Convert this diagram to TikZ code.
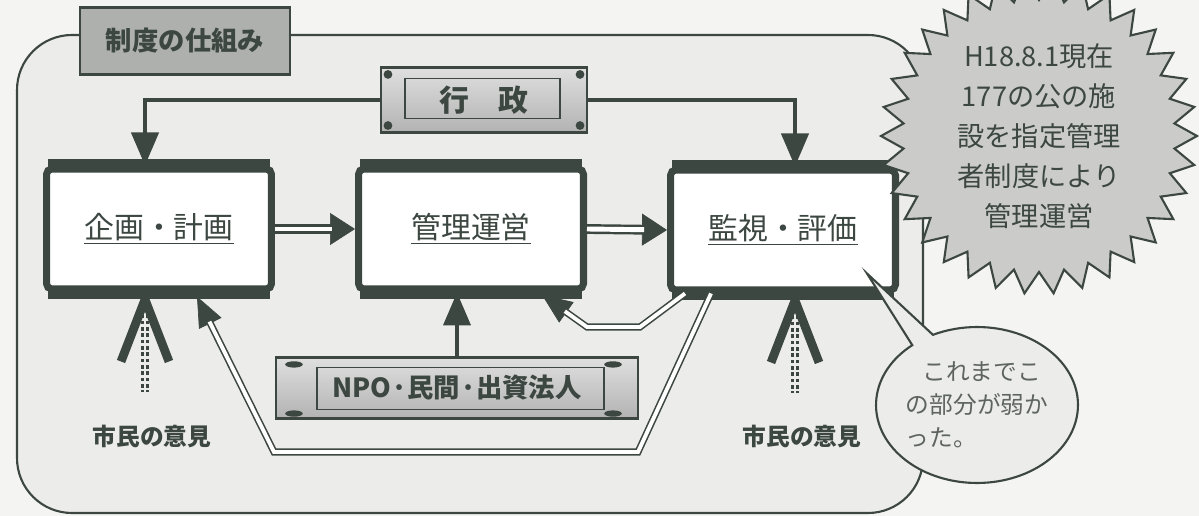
\documentclass[tikz,border=0pt]{standalone}
\usepackage{fontspec}
\setmainfont{Noto Sans CJK JP}
\usetikzlibrary{arrows.meta,shapes.callouts}

\definecolor{ink}{HTML}{3D4742}
\definecolor{paper}{HTML}{F4F4F2}
\definecolor{panel}{HTML}{ECECEA}
\definecolor{plate}{HTML}{AEB0AD}
\definecolor{burstgray}{HTML}{CBCCCA}
\definecolor{softink}{HTML}{5E6460}

\tikzstyle{panelframe} = [draw=ink, line width=1.2pt, fill=panel, rounded corners=1.1cm]
\tikzstyle{titlebox} = [rectangle, draw=ink, line width=1.2pt, fill=plate, minimum width=4.2cm, minimum height=1.34cm, text=ink, font=\bfseries\fontsize{15}{18}\selectfont]
\tikzstyle{plaque} = [rectangle, draw=ink, line width=1.2pt, top color=gray!25, bottom color=gray!60, text=ink, font=\bfseries\fontsize{17}{20}\selectfont]
\tikzstyle{stagebox} = [rectangle, rounded corners=3pt, minimum width=4.5cm, minimum height=2.4cm, draw=ink, line width=4pt, fill=white, text=ink, font=\fontsize{17}{20}\selectfont]
\tikzstyle{voice} = [text=ink, font=\bfseries\fontsize{13.5}{16}\selectfont]
\tikzstyle{flow} = [draw=ink, line width=2.4pt, -{Triangle[length=0.66cm, width=0.54cm]}]
\tikzstyle{pipe} = [draw=ink, line width=1.4pt, double=white, double distance=2.8pt, shorten >=0.46cm]
\tikzstyle{pipetip} = [draw=ink, line width=0.4pt, -{Triangle[length=0.5cm, width=0.64cm]}]
\tikzstyle{backline} = [draw=ink, line width=0.9pt, double=white, double distance=2.2pt, shorten >=0.56cm]
\tikzstyle{backtip} = [draw=ink, line width=0.4pt, -{Triangle[length=0.6cm, width=0.5cm]}]
\tikzstyle{chevron} = [draw=ink, line width=5pt, line join=miter]
\tikzstyle{dotpair} = [draw=ink, line width=1.8pt, double=panel, double distance=1.2pt, dash pattern=on 2pt off 1.6pt]

\begin{document}
\begin{tikzpicture}[x=0.02cm, y=-0.02cm]
\useasboundingbox (0,0) rectangle (1199,516);
\fill[paper] (0,0) rectangle (1199,516);

% outer panel and its title
\draw[panelframe] (17,35) rectangle (923,513);
\node (title) [titlebox] at (185,41) {制度の仕組み};

% plaques
\node (gyosei) [plaque, minimum width=4.12cm, minimum height=1.3cm] at (484,100) {行\quad 政};
\draw[ink, line width=0.8pt] ([shift={(25,12)}]gyosei.north west) rectangle ([shift={(-28,-15)}]gyosei.south east);
\fill[ink] ([shift={(8,8)}]gyosei.north west) circle (2.5pt);
\fill[ink] ([shift={(-8,8)}]gyosei.north east) circle (2.5pt);
\fill[ink] ([shift={(8,-8)}]gyosei.south west) circle (2.5pt);
\fill[ink] ([shift={(-8,-8)}]gyosei.south east) circle (2.5pt);

\node (npo) [plaque, minimum width=7.24cm, minimum height=1.22cm, font=\bfseries\fontsize{15}{18}\selectfont] at (457,388) {NPO·民間·出資法人};
\draw[ink, line width=0.8pt] ([shift={(42,11)}]npo.north west) rectangle ([shift={(-35,-10)}]npo.south east);
\fill[ink] ([shift={(19,8)}]npo.north west) ellipse [x radius=5pt, y radius=1.8pt];
\fill[ink] ([shift={(19,-6)}]npo.south west) ellipse [x radius=5pt, y radius=1.8pt];
\fill[ink] ([shift={(-26,8)}]npo.north east) ellipse [x radius=5pt, y radius=1.8pt];
\fill[ink] ([shift={(-26,-6)}]npo.south east) ellipse [x radius=5pt, y radius=1.8pt];

% the three stages
\node (plan) [stagebox] at (159,229) {\underline{企画・計画}};
\node (manage) [stagebox] at (471,229) {\underline{管理運営}};
\node (watch) [stagebox] at (783,230) {\underline{監視・評価}};
\foreach \n in {plan,manage,watch} {
  \draw[ink, line width=7pt] ([xshift=3pt]\n.north west) -- ([xshift=-3pt]\n.north east);
  \draw[ink, line width=7pt] ([xshift=3pt]\n.south west) -- ([xshift=-3pt]\n.south east);
}

\coordinate (v1) at ([xshift=-0.28cm, yshift=-0.14cm]plan.south);
\coordinate (v2) at ([xshift=0.24cm, yshift=-0.14cm]watch.south);

% arrows
\draw[flow] (gyosei.west) -| ([xshift=-0.28cm]plan.north);
\draw[flow] (gyosei.east) -| ([xshift=0.24cm]watch.north);
\draw[flow] (npo.north) -- (npo.north |- manage.south);

\draw[pipetip] (plan.east) -- (manage.west);
\draw[pipe] (plan.east) -- (manage.west);
\draw[pipetip] (manage.east) -- (watch.west);
\draw[pipe] (manage.east) -- (watch.west);

\draw[backtip] ([xshift=0.36cm]watch.south west) -- (640,327) -- (587,327) -- ([xshift=-0.9cm, yshift=-0.05cm]manage.south east);
\draw[backline] ([xshift=0.36cm]watch.south west) -- (640,327) -- (587,327) -- ([xshift=-0.9cm, yshift=-0.05cm]manage.south east);
\draw[backtip] ([xshift=0.88cm]watch.south west) -- (638,452) -- (274,452) -- ([xshift=0.76cm, yshift=-0.08cm]plan.south);
\draw[backline] ([xshift=0.88cm]watch.south west) -- (638,452) -- (274,452) -- ([xshift=0.76cm, yshift=-0.08cm]plan.south);

% citizens' opinion
\node (cit1) [voice] at (152,437) {市民の意見};
\node (cit2) [voice] at (802,437) {市民の意見};
\draw[chevron] ([shift={(-24,62)}]v1) -- (v1) -- ([shift={(24,62)}]v1);
\draw[chevron] ([shift={(-24,62)}]v2) -- (v2) -- ([shift={(24,62)}]v2);
\draw[dotpair] ([yshift=-0.3cm]v1) -- ([yshift=-1.86cm]v1);
\draw[dotpair] ([yshift=-0.3cm]v2) -- ([yshift=-1.86cm]v2);

% starburst
\draw[draw=ink, line width=1.2pt, fill=burstgray] plot[samples at={0,...,67}] ({1039+(mod(\x,2)==0?158:136)*cos(\x*5.294)}, {136+(mod(\x,2)==0?158:136)*sin(\x*5.294)}) -- cycle;
\node (now) [text=ink, align=center, font=\fontsize{15.5}{22.7}\selectfont] at (1039,136) {H18.8.1現在\\177の公の施\\設を指定管理\\者制度により\\管理運営};

% comment bubble
\node (note) [ellipse callout, draw=ink, line width=1.2pt, fill=panel, minimum width=4.04cm, minimum height=3.12cm, inner sep=0pt, callout absolute pointer={([shift={(-32,-20)}]watch.south east)}, callout pointer arc=14, align=left, text=softink, font=\fontsize{13.5}{18.7}\selectfont] at (977,405) {\hspace{0.7em}これまでこ\\の部分が弱か\\った。};

\end{tikzpicture}
\end{document}
